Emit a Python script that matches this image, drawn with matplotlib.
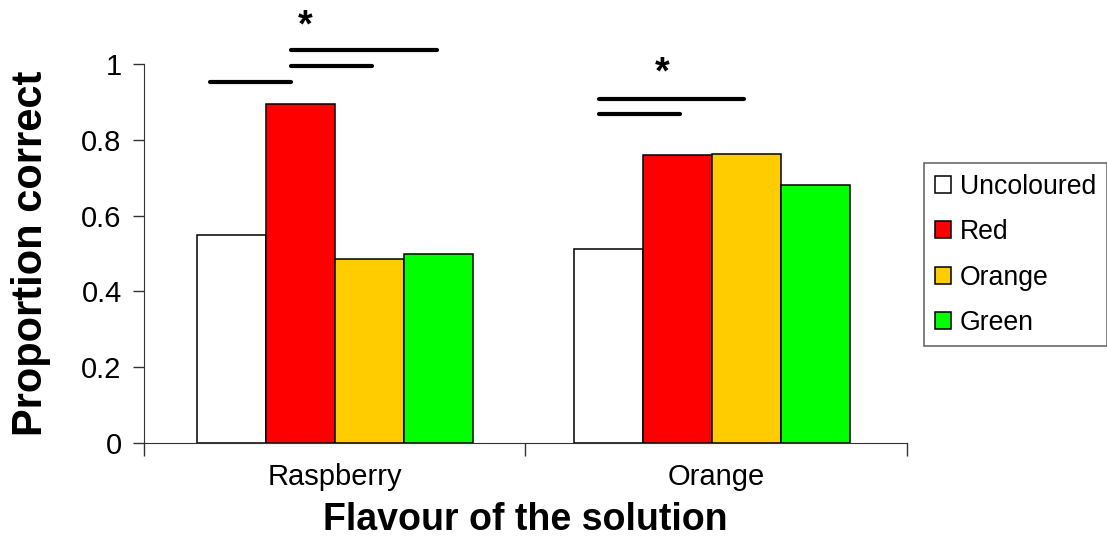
import matplotlib
matplotlib.use("Agg")
import matplotlib.pyplot as plt
from matplotlib.ticker import FixedLocator, FuncFormatter

plt.rcParams["font.family"] = ["Liberation Sans", "DejaVu Sans"]

# proportion correct per solution flavour and colour condition
flavours = ["Raspberry", "Orange"]
conditions = ["Uncoloured", "Red", "Orange", "Green"]
colours = ["#FFFFFF", "#FF0000", "#FFCC00", "#00FF00"]
raspberry = [0.55, 0.895, 0.487, 0.499]
orange = [0.512, 0.759, 0.764, 0.681]
values = [raspberry, orange]

# significance bars: (x start, x end, height)
sig_lines = [
    (0.173, 0.385, 0.952),
    (0.385, 0.598, 0.995),
    (0.385, 0.768, 1.037),
    (1.193, 1.573, 0.908),
    (1.193, 1.405, 0.868),
]
stars = [(0.422, 1.10), (1.358, 0.975)]

fig = plt.figure(figsize=(11.07, 5.43), dpi=100)
ax = fig.add_axes([0.130, 0.184, 0.689, 0.698])

bar_w = 0.181
centres = [0.5, 1.49]
for gi, vals in enumerate(values):
    for ci, v in enumerate(vals):
        x = centres[gi] + (ci - 1.5) * bar_w
        ax.bar(x, v, width=bar_w, color=colours[ci], edgecolor="black",
               linewidth=1.1, label=conditions[ci] if gi == 0 else None)

for x0, x1, y in sig_lines:
    ax.plot([x0, x1], [y, y], color="black", lw=3.0, solid_capstyle="round",
            clip_on=False)
for x, y in stars:
    ax.text(x, y, "*", fontsize=27, fontweight="bold", ha="center",
            va="center", clip_on=False)

ax.set_xlim(0, 2)
ax.set_ylim(0, 1)
ax.spines["top"].set_visible(False)
ax.spines["right"].set_visible(False)
ax.spines["left"].set_color("#333333")
ax.spines["bottom"].set_color("#333333")

ax.xaxis.set_major_locator(FixedLocator([0, 1, 2]))
ax.xaxis.set_major_formatter(FuncFormatter(lambda v, p: ""))
ax.xaxis.set_minor_locator(FixedLocator([0.5, 1.5]))
ax.set_xticklabels(flavours, minor=True)
ax.tick_params(axis="x", which="major", direction="out", length=9, width=1,
               color="#333333")
ax.tick_params(axis="x", which="minor", length=0, pad=14, labelsize=21)

ax.set_yticks([0, 0.2, 0.4, 0.6, 0.8, 1.0])
ax.yaxis.set_major_formatter(FuncFormatter(lambda v, p: f"{v:g}"))
ax.tick_params(axis="y", direction="out", length=8, width=1, color="#333333",
               labelsize=21, pad=8)

ax.set_ylabel("Proportion correct", fontsize=30, fontweight="bold", labelpad=22)
ax.set_xlabel("Flavour of the solution", fontsize=27, fontweight="bold",
              labelpad=8)

leg = ax.legend(loc="upper left", bbox_to_anchor=(0.835, 0.699),
                bbox_transform=fig.transFigure, fontsize=19.2, frameon=True,
                fancybox=False, edgecolor="#444444", handlelength=0.6,
                handleheight=0.6, handletextpad=0.33, labelspacing=0.72,
                borderpad=0.4, borderaxespad=0)
leg.get_frame().set_linewidth(1.2)

fig.savefig("out.png", dpi=100)
